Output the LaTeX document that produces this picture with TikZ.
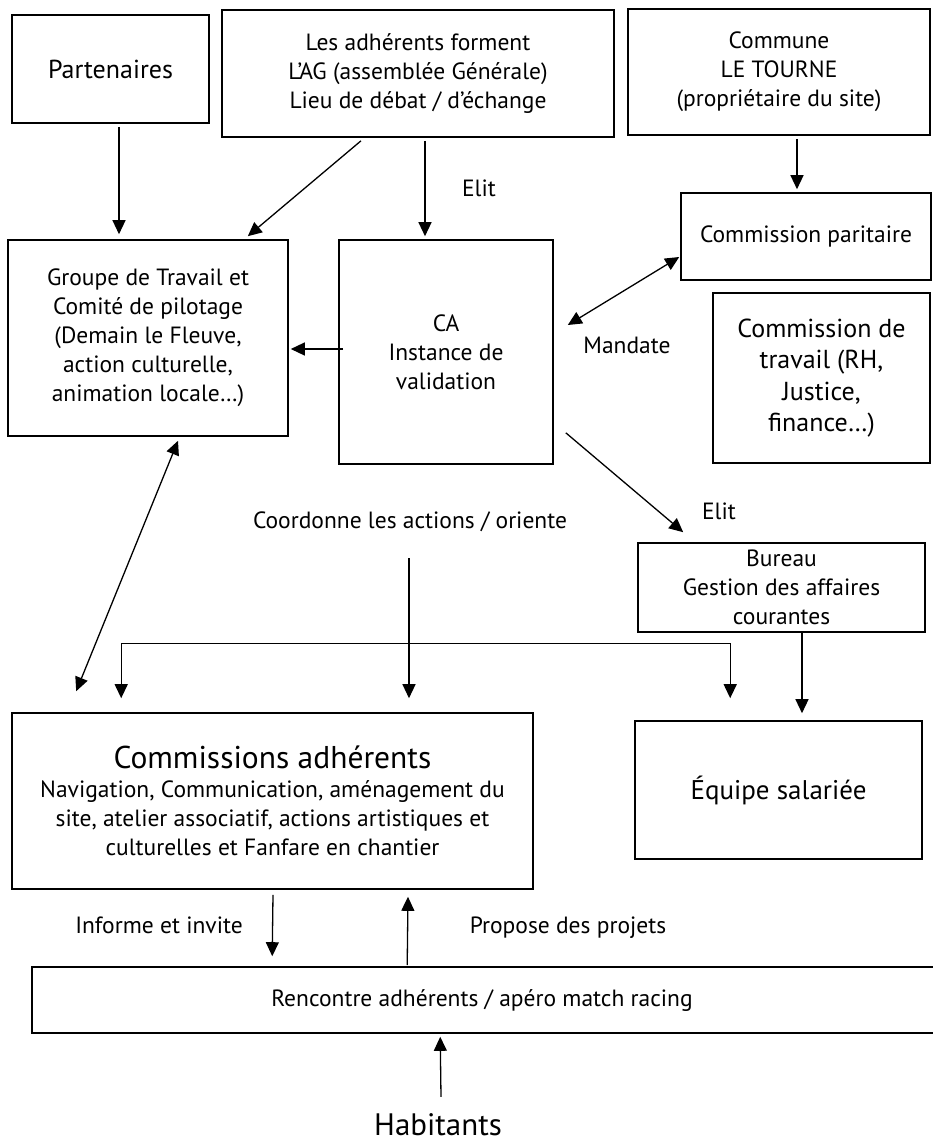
\documentclass[tikz,border=0pt]{standalone}
\usepackage{fontspec}
\setmainfont{PT Sans}
\usetikzlibrary{arrows.meta, calc}

\begin{document}
\begin{tikzpicture}[x=1pt, y=-1pt,
  box/.style={draw, line width=1.6pt, align=center, inner sep=0pt,
    font=\fontsize{23.5}{29}\selectfont},
  lbl/.style={align=center, inner sep=0pt, font=\fontsize{23.5}{29}\selectfont},
  arr/.style={-{Triangle[length=14pt,width=13pt]}, line width=1.3pt},
  darr/.style={{Triangle[length=14pt,width=13pt]}-{Triangle[length=14pt,width=13pt]}, line width=1.3pt}]
  \useasboundingbox (0,0) rectangle (932,1146);

  % Top row: partners, general assembly, municipality.
  \node [box,
    font=\fontsize{26}{31}\selectfont,
    minimum width=197pt,
    minimum height=108pt] (part) at (110.5,69) {Partenaires};
  \node [box,
    minimum width=392pt,
    minimum height=127pt] (ag) at (418,73.5)
    {Les adhérents forment\\L’AG (assemblée Générale)\\Lieu de débat / d’échange};
  \node [box,
    minimum width=302pt,
    minimum height=126pt] (commune) at (779,72)
    {Commune\\LE TOURNE\\(propriétaire du site)};

  % Middle row: working group, board, commissions.
  \node [box,
    minimum width=250pt,
    minimum height=87pt] (cpar) at (806,236.5) {Commission paritaire};
  \node [box,
    minimum width=280pt,
    minimum height=196pt] (grp) at (148,338)
    {Groupe de Travail et\\Comité de pilotage\\(Demain le Fleuve,\\action culturelle,\\animation locale…)};
  \node [box,
    minimum width=214pt,
    minimum height=224pt] (ca) at (446,352)
    {CA\\Instance de\\validation};
  \node [box,
    font=\fontsize{26}{31.5}\selectfont,
    minimum width=217pt,
    minimum height=170pt] (ctrav) at (821.5,378)
    {Commission de\\travail (RH,\\Justice,\\finance…)};
  \node [box,
    minimum width=287pt,
    minimum height=89pt] (bureau) at (781.5,587.5)
    {Bureau\\Gestion des affaires\\courantes};

  % Bottom row: member commissions, staff, meetings.
  \node [box,
    minimum width=521pt,
    minimum height=176pt] (cadh) at (272.5,801)
    {\fontsize{31.5}{35}\selectfont Commissions adhérents\\[0pt]
     Navigation, Communication, aménagement du\\
     site, atelier associatif, actions artistiques et\\
     culturelles et Fanfare en chantier};
  \node [box,
    font=\fontsize{27}{33}\selectfont,
    minimum width=287pt,
    minimum height=138pt] (equipe) at (778.5,790) {Équipe salariée};
  \node [box,
    minimum width=908pt,
    minimum height=66pt] (renc) at (486,1000) {};
  \node [lbl] (renctxt) at (482,1001) {Rencontre adhérents / apéro match racing};
  \node [lbl, font=\fontsize{31}{36}\selectfont, anchor=base] (hab) at (438,1135) {Habitants};

  % Labels on the connectors.
  \node [lbl] (elit1) at (479,188) {Elit};
  \node [lbl] (mandate) at (627,345) {Mandate};
  \node [lbl] (elit2) at (719,511) {Elit};
  \node [lbl] (coord) at (410,522) {Coordonne les actions / oriente};
  \node [lbl] (informe) at (159,925) {Informe et invite};
  \node [lbl] (propose) at (568,928) {Propose des projets};

  % Connectors.
  \draw [arr] ($(part.south)+(8.5,3)$) -- ($(grp.north)+(-29,-5)$);
  \draw [arr] ($(ag.south)+(-57,3)$) -- ($(grp.north east)+(-41,-3)$);
  \draw [arr] ($(ag.south)+(7,3)$) -- ($(ca.north)+(-21,-3)$);
  \draw [arr] ($(commune.south)+(18,3)$) -- ($(cpar.north)+(-9,-3)$);
  \draw [arr] ($(ca.west)+(5,-3)$) -- ($(grp.east)+(2,11)$);
  \draw [darr] ($(cpar.west)+(-1,20.5)$) -- ($(ca.east)+(14,-27)$);
  \draw [darr] ($(grp.south)+(30,4)$) -- ($(cadh.north west)+(65,-21)$);
  \draw [arr] ($(ca.south east)+(12,-32)$) -- ($(bureau.north west)+(46,-10)$);
  \draw [arr] ($(coord)+(-1,36)$) -- ($(cadh.north)+(136.5,-14)$);
  \draw [darr] ($(cadh.north west)+(110,-14)$) -- ++(0,-55)
    -| ($(equipe.north west)+(96,-22)$);
  \draw [arr] ($(bureau.south)+(20.5,0)$) -- ($(equipe.north)+(23.5,-7)$);
  \draw [arr] ($(cadh.south)+(0.5,5)$) -- ($(renc.north west)+(241,-10)$);
  \draw [arr] ($(renc.north west)+(376,-1)$) -- ($(cadh.south)+(135.5,7)$);
  \draw [arr] ($(hab.north)+(3,-16)$) -- ($(renc.south west)+(409,3)$);
\end{tikzpicture}
\end{document}
